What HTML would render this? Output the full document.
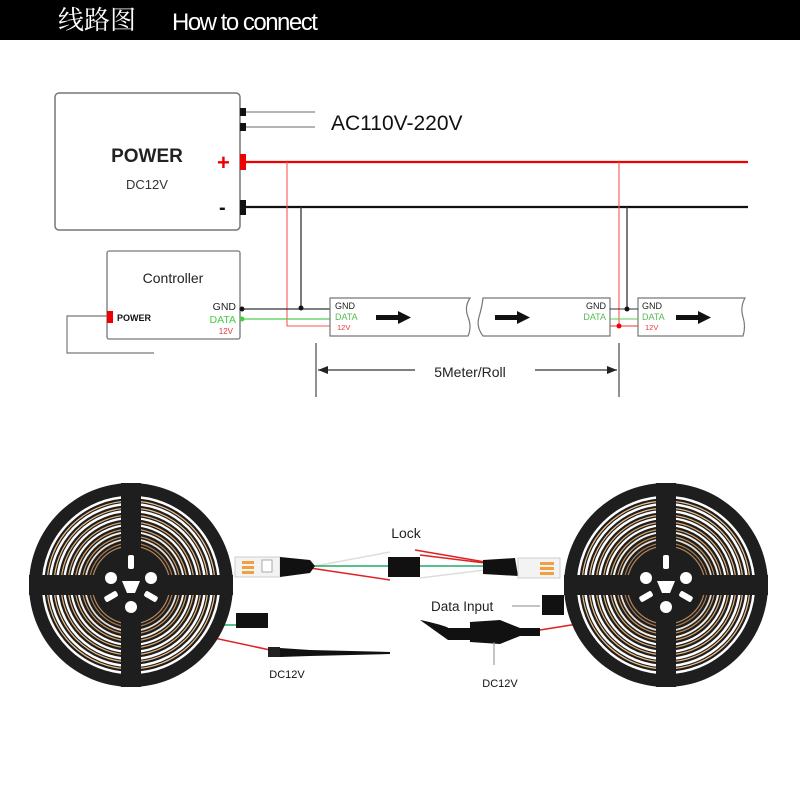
<!DOCTYPE html>
<html><head><meta charset="utf-8"><style>
html,body{margin:0;padding:0;background:#fff;}
svg{display:block}
</style></head><body>
<svg width="800" height="800" viewBox="0 0 800 800" xmlns="http://www.w3.org/2000/svg" font-family="Liberation Sans, Arial, sans-serif">
<defs>
<g id="reel">
  <circle r="102" fill="#1e1e1e"/>
  <g fill="none">
    <circle r="88" stroke="#fff" stroke-width="2.5"/>
    <circle r="84" stroke="#f0c08a" stroke-width="1.2"/>
    <circle r="81" stroke="#fff" stroke-width="2.5"/>
    <circle r="77" stroke="#f0c08a" stroke-width="1.2"/>
    <circle r="74" stroke="#fff" stroke-width="2.5"/>
    <circle r="70" stroke="#e8b47a" stroke-width="1.2"/>
    <circle r="67" stroke="#fff" stroke-width="2.3"/>
    <circle r="63" stroke="#e0aa70" stroke-width="1.2"/>
    <circle r="60" stroke="#fff" stroke-width="2.2"/>
    <circle r="56" stroke="#d9a46a" stroke-width="1.2"/>
    <circle r="53" stroke="#f4f0ea" stroke-width="2"/>
    <circle r="49" stroke="#c8925a" stroke-width="1.2"/>
    <circle r="46" stroke="#e8e0d6" stroke-width="1.8"/>
    <circle r="42" stroke="#a8784a" stroke-width="1.2"/>
    <circle r="39" stroke="#b08660" stroke-width="1.2"/>
  </g>
  <rect x="-10" y="-102" width="20" height="204" fill="#1e1e1e"/>
  <rect x="-102" y="-10" width="204" height="20" fill="#1e1e1e"/>
  <circle r="34" fill="#1e1e1e"/>
  <circle cx="-20" cy="-7" r="6" fill="#fff"/>
  <circle cx="20" cy="-7" r="6" fill="#fff"/>
  <circle cx="0" cy="22" r="6" fill="#fff"/>
  <rect x="-3" y="-30" width="6" height="14" rx="2" fill="#fff"/>
  <rect x="-3" y="-30" width="6" height="14" rx="2" fill="#fff" transform="rotate(120)"/>
  <rect x="-3" y="-30" width="6" height="14" rx="2" fill="#fff" transform="rotate(240)"/>
  <path d="M-9,-4 L9,-4 L4,8 L-4,8 Z" fill="#fff"/>
</g>
</defs>

<rect x="0" y="0" width="800" height="40" fill="#000"/>
<text x="58" y="29" fill="#fff" font-size="26" font-family="Noto Serif CJK SC, serif">线路图</text>
<text x="172" y="30" fill="#fff" font-size="24" letter-spacing="-1.5">How to connect</text>

<rect x="55" y="93" width="185" height="137" rx="4" fill="#fff" stroke="#777" stroke-width="1.5"/>
<text x="147" y="162" font-size="19" font-weight="bold" text-anchor="middle" fill="#222">POWER</text>
<text x="147" y="189" font-size="13" text-anchor="middle" fill="#333">DC12V</text>
<rect x="240" y="108" width="6" height="8" fill="#111"/>
<rect x="240" y="123" width="6" height="8" fill="#111"/>
<line x1="246" y1="112" x2="315" y2="112" stroke="#888" stroke-width="1.3"/>
<line x1="246" y1="127" x2="315" y2="127" stroke="#888" stroke-width="1.3"/>
<text x="331" y="130" font-size="21" fill="#111">AC110V-220V</text>
<text x="217" y="170" font-size="22" fill="#e00" font-weight="bold">+</text>
<rect x="240" y="154" width="6" height="16" fill="#e00"/>
<line x1="246" y1="162" x2="748" y2="162" stroke="#e00" stroke-width="2.2"/>
<text x="219" y="214" font-size="20" fill="#111" font-weight="bold">-</text>
<rect x="240" y="200" width="6" height="15" fill="#111"/>
<line x1="246" y1="207" x2="748" y2="207" stroke="#111" stroke-width="2.2"/>

<polyline points="287,162 287,326 330,326" fill="none" stroke="#f55" stroke-width="1.1"/>
<polyline points="301,207 301,308" fill="none" stroke="#333" stroke-width="1.3"/>
<line x1="619" y1="162" x2="619" y2="326" stroke="#f55" stroke-width="1.1"/>
<line x1="627" y1="207" x2="627" y2="308" stroke="#333" stroke-width="1.3"/>

<rect x="107" y="251" width="133" height="88" rx="2" fill="#fff" stroke="#777" stroke-width="1.3"/>
<text x="173" y="283" font-size="14" text-anchor="middle" fill="#222">Controller</text>
<rect x="107" y="311" width="6" height="12" fill="#e00"/>
<text x="117" y="321" font-size="9" font-weight="bold" fill="#111">POWER</text>
<polyline points="107,316 67,316 67,353 154,353" fill="none" stroke="#777" stroke-width="1.2"/>
<text x="236" y="310" font-size="10.5" text-anchor="end" fill="#222">GND</text>
<text x="236" y="323" font-size="10.5" text-anchor="end" fill="#4c4">DATA</text>
<text x="233" y="334" font-size="8" text-anchor="end" fill="#e33">12V</text>
<circle cx="242" cy="309" r="2.5" fill="#111"/>
<circle cx="242" cy="319" r="2.5" fill="#4c4"/>
<line x1="244" y1="309" x2="330" y2="309" stroke="#333" stroke-width="1.2"/>
<line x1="244" y1="319" x2="330" y2="319" stroke="#5c5" stroke-width="1.2"/>
<circle cx="301" cy="308" r="2.5" fill="#111"/>

<path d="M330,298 H470 Q464,307 468,317 Q472,327 468,336 H330 Z" fill="#fff" stroke="#777" stroke-width="1.2"/>
<path d="M483,298 H610 V336 H483 Q476,327 479,317 Q482,307 483,298 Z" fill="#fff" stroke="#777" stroke-width="1.2"/>
<path d="M638,298 H745 Q740,307 743,317 Q746,327 743,336 H638 Z" fill="#fff" stroke="#777" stroke-width="1.2"/>
<text x="335" y="309" font-size="9" fill="#222">GND</text>
<text x="335" y="320" font-size="9" fill="#5b5">DATA</text>
<text x="337" y="330" font-size="7.5" fill="#e33">12V</text>
<text x="606" y="309" font-size="9" text-anchor="end" fill="#222">GND</text>
<text x="606" y="320" font-size="9" text-anchor="end" fill="#5b5">DATA</text>
<text x="642" y="309" font-size="9" fill="#222">GND</text>
<text x="642" y="320" font-size="9" fill="#5b5">DATA</text>
<text x="645" y="330" font-size="7.5" fill="#e33">12V</text>
<line x1="610" y1="309" x2="638" y2="309" stroke="#333" stroke-width="1.1"/>
<line x1="610" y1="319" x2="638" y2="319" stroke="#5c5" stroke-width="1.1"/>
<line x1="610" y1="326" x2="638" y2="326" stroke="#e33" stroke-width="1.1"/>
<circle cx="627" cy="309" r="2.5" fill="#111"/>
<circle cx="619" cy="326" r="2.5" fill="#e00"/>
<g fill="#111">
<rect x="376" y="315" width="22" height="5"/><path d="M398,311 L411,317.5 L398,324 Z"/>
<rect x="495" y="315" width="22" height="5"/><path d="M517,311 L530,317.5 L517,324 Z"/>
<rect x="676" y="315" width="22" height="5"/><path d="M698,311 L711,317.5 L698,324 Z"/>
</g>

<line x1="316" y1="343" x2="316" y2="397" stroke="#555" stroke-width="1.3"/>
<line x1="619" y1="343" x2="619" y2="397" stroke="#555" stroke-width="1.3"/>
<line x1="318" y1="370" x2="415" y2="370" stroke="#333" stroke-width="1.3"/>
<line x1="535" y1="370" x2="617" y2="370" stroke="#333" stroke-width="1.3"/>
<path d="M318,370 L328,366 L328,374 Z" fill="#222"/>
<path d="M617,370 L607,366 L607,374 Z" fill="#222"/>
<text x="470" y="377" font-size="14" text-anchor="middle" fill="#222">5Meter/Roll</text>

<g fill="none" stroke-width="1.5">
<path d="M310,567 L390,552" stroke="#ddd"/>
<path d="M310,566 L390,566" stroke="#2a6"/>
<path d="M310,568 L390,580" stroke="#d22"/>
<path d="M420,566 L485,566" stroke="#2a6"/>
<path d="M420,555 L485,563" stroke="#d22"/>
<path d="M415,550 L485,562" stroke="#d22"/>
<path d="M420,578 L485,570" stroke="#ddd"/>
<path d="M140,617 L210,625 L240,625" stroke="#2a6"/>
<path d="M140,620 L200,635 L270,650" stroke="#d22"/>
<path d="M140,615 L210,620" stroke="#ddd"/>
<path d="M540,630 L590,622 L620,610" stroke="#d22"/>
<path d="M580,605 L640,595" stroke="#2a6"/>
<path d="M580,610 L640,600" stroke="#d22"/>
</g>

<use href="#reel" x="131" y="585"/>
<use href="#reel" x="666" y="585"/>

<rect x="235" y="557" width="45" height="20" fill="#f3f3f3" stroke="#ccc"/>
<rect x="242" y="561" width="12" height="3" fill="#f0a040"/><rect x="242" y="566" width="12" height="3" fill="#f0a040"/><rect x="242" y="571" width="12" height="3" fill="#f0a040"/>
<rect x="262" y="560" width="10" height="12" fill="#fff" stroke="#aaa"/>
<path d="M280,557 L310,560 L315,566 L310,573 L280,577 Z" fill="#111"/>
<rect x="388" y="557" width="32" height="20" fill="#111"/>
<rect x="236" y="613" width="32" height="15" fill="#111"/>
<rect x="268" y="647" width="12" height="10" fill="#222"/>
<path d="M280,648 L310,650 L390,652 L390,654 L310,656 L280,657 Z" fill="#111"/>
<text x="287" y="678" font-size="11" text-anchor="middle" fill="#111">DC12V</text>
<text x="406" y="538" font-size="14" text-anchor="middle" fill="#222">Lock</text>

<path d="M483,560 L515,558 L518,576 L483,574 Z" fill="#111"/>
<rect x="518" y="558" width="42" height="20" fill="#f3f3f3" stroke="#ccc"/>
<rect x="540" y="562" width="14" height="3" fill="#f0a040"/><rect x="540" y="567" width="14" height="3" fill="#f0a040"/><rect x="540" y="572" width="14" height="3" fill="#f0a040"/>
<rect x="542" y="595" width="22" height="20" fill="#111"/>
<line x1="512" y1="606" x2="540" y2="606" stroke="#888"/>
<text x="431" y="611" font-size="13.5" fill="#222">Data Input</text>
<path d="M420,620 C440,624 450,628 448,628 L510,628 L510,640 L448,640 Z" fill="#111"/>
<path d="M470,622 L500,620 L520,628 L540,628 L540,636 L520,636 L500,644 L470,642 Z" fill="#111"/>
<line x1="494" y1="642" x2="494" y2="665" stroke="#888"/>
<text x="500" y="687" font-size="11" text-anchor="middle" fill="#111">DC12V</text>
</svg>
</body></html>
